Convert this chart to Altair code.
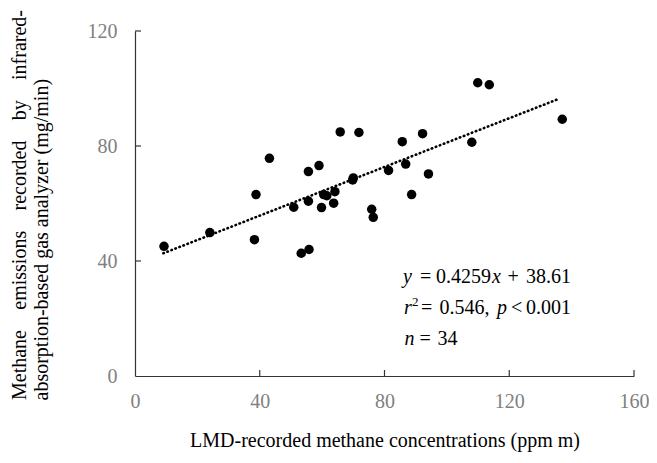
import altair as alt
import pandas as pd

# ---------------- data ----------------
lmd_ppm_m = [9.3, 24.0, 38.3, 38.8, 43.1, 50.9, 53.3, 55.8, 55.6, 55.6, 59.0,
             59.8, 60.5, 61.5, 64.1, 63.7, 65.8, 71.8, 69.8, 70.0, 75.9, 76.4,
             81.3, 85.7, 86.8, 88.7, 92.2, 94.1, 108.0, 109.9, 113.6, 137.0]
ch4_mg_min = [45.1, 49.9, 47.4, 63.1, 75.7, 58.7, 42.7, 44.0, 60.8, 71.1, 73.2,
              58.6, 63.1, 62.7, 64.1, 60.1, 84.9, 84.7, 68.2, 68.9, 58.0, 55.2,
              71.5, 81.5, 73.7, 63.1, 84.3, 70.3, 81.3, 102.0, 101.3, 89.3]
trend_x = [9.1, 135.9]
trend_y = [42.7, 96.4]
x_ticks = [0, 40, 80, 120, 160]
y_ticks = [0, 40, 80, 120]
x_title = "LMD-recorded methane concentrations (ppm m)"
y_title_line1_words = ["Methane", "emissions", "recorded", "by", "infrared-"]
y_title_line2 = "absorption-based gas analyzer (mg/min)"
eq_parts = ["y", "=", "0.4259", "x", "+", "38.61"]
r2_parts = ["r", "2", "=", "0.546,", "p", "<", "0.001"]
n_parts = ["n", "=", "34"]

# ---------------- layout ----------------
W, H = 499, 345
FONT = "Liberation Serif"
FS = 20
AX = "#333333"
LBL = "#808080"

xs = alt.Scale(domain=[0, 160], nice=False, zero=False)
ys = alt.Scale(domain=[0, 120], nice=False, zero=False)

x_axis = alt.Axis(
    values=x_ticks, title=x_title, grid=False, ticks=False, tickSize=0,
    domainColor=AX, domainWidth=1.2, labelFlush=False,
    labelColor=LBL, labelFont=FONT, labelFontSize=FS, labelPadding=15,
    titleFont=FONT, titleFontSize=FS, titleFontWeight="normal",
    titleColor="black", titleY=70, titleBaseline="alphabetic")
y_axis = alt.Axis(
    values=y_ticks, title=y_title_line2, grid=False, ticks=False, tickSize=0,
    domainColor=AX, domainWidth=1.2, labelFlush=False,
    labelColor=LBL, labelFont=FONT, labelFontSize=FS, labelPadding=18,
    titleFont=FONT, titleFontSize=FS, titleFontWeight="normal",
    titleColor="black", titleX=-88, titleY=369, titleAngle=270,
    titleAlign="left", titleBaseline="alphabetic")

pts = pd.DataFrame({"x": lmd_ppm_m, "y": ch4_mg_min})
trend = pd.DataFrame({"x": trend_x, "y": trend_y})

points = alt.Chart(pts).mark_circle(size=90, color="black", opacity=1).encode(
    x=alt.X("x:Q", scale=xs, axis=x_axis),
    y=alt.Y("y:Q", scale=ys, axis=y_axis),
)

trend_line = alt.Chart(trend).mark_line(
    color="black", strokeWidth=2.6, strokeDash=[0.5, 3.8], strokeCap="round"
).encode(
    x=alt.X("x:Q", scale=xs, axis=x_axis),
    y=alt.Y("y:Q", scale=ys, axis=y_axis),
)

xt = alt.Chart(pd.DataFrame({"x": x_ticks[1:]})).mark_rule(
    color=AX, strokeWidth=1.2).encode(
    x=alt.X("x:Q", scale=xs, axis=x_axis), y=alt.value(H), y2=alt.value(H - 6))
yt = alt.Chart(pd.DataFrame({"y": y_ticks[1:]})).mark_rule(
    color=AX, strokeWidth=1.2).encode(
    y=alt.Y("y:Q", scale=ys, axis=y_axis), x=alt.value(0), x2=alt.value(6))


def txt(s, px, py, italic=False, size=FS, angle=0):
    return alt.Chart(pd.DataFrame({"s": [s]})).mark_text(
        align="left", baseline="alphabetic", font=FONT, fontSize=size,
        fontStyle="italic" if italic else "normal", angle=angle, color="black"
    ).encode(text="s:N", x=alt.value(px), y=alt.value(py))


# justified first line of the y title (Times metrics, 1/1000 em)
TW = {"M": 889, "e": 444, "t": 278, "h": 500, "a": 444, "n": 500, "i": 278,
      "s": 389, "o": 500, "r": 333, "c": 444, "d": 500, "b": 500, "y": 500,
      "f": 333, "-": 333, "m": 778}
widths = [sum(TW.get(c, 500) for c in w) * FS / 1000 for w in y_title_line1_words]
start, end = 369, -21
gap = (start - end - sum(widths)) / (len(widths) - 1)
layers = []
pos = start
for w, wd in zip(y_title_line1_words, widths):
    layers.append(txt(w, -109, pos, angle=270))
    pos -= wd + gap

# regression annotation
l1, l2, l3 = 252, 283, 314
ann = [
    txt(eq_parts[0], 268, l1, True), txt(eq_parts[1], 285, l1),
    txt(eq_parts[2], 301, l1), txt(eq_parts[3], 357, l1, True),
    txt(eq_parts[4], 372.5, l1), txt(eq_parts[5], 391, l1),
    txt(r2_parts[0], 269, l2, True), txt(r2_parts[1], 277, l2 - 8, size=13),
    txt(r2_parts[2], 286, l2), txt(r2_parts[3], 304.5, l2),
    txt(r2_parts[4], 362, l2, True), txt(r2_parts[5], 376, l2),
    txt(r2_parts[6], 391, l2),
    txt(n_parts[0], 269.5, l3, True), txt(n_parts[1], 284.5, l3),
    txt(n_parts[2], 302.5, l3),
]

chart = alt.layer(points, trend_line, xt, yt, *layers, *ann).properties(
    width=W, height=H,
    background="white",
    autosize=alt.AutoSizeParams(type="none"),
    padding={"left": 127, "top": 23, "right": 15, "bottom": 76},
).configure_view(stroke=None)

chart.save("out.html", embed_options={"renderer": "svg", "actions": False})
